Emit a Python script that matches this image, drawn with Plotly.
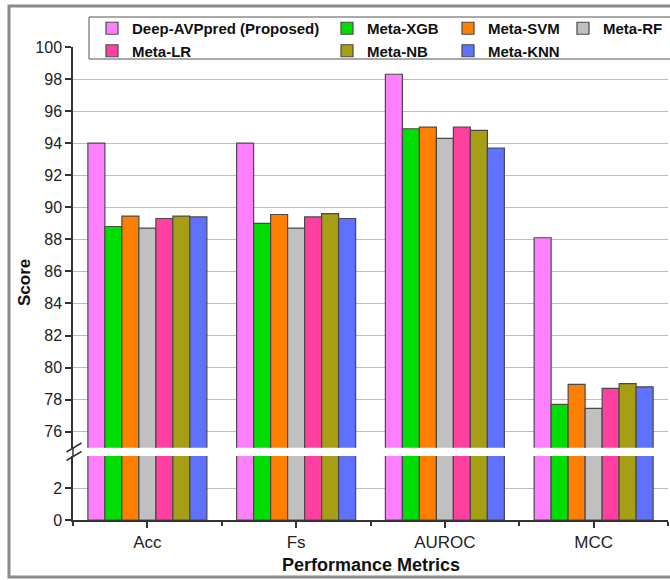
import plotly.graph_objects as go

# ---------------- data ----------------
metrics = ["Acc", "Fs", "AUROC", "MCC"]
models = ["Deep-AVPpred (Proposed)", "Meta-XGB", "Meta-SVM", "Meta-RF",
          "Meta-LR", "Meta-NB", "Meta-KNN"]
deep_avppred = [94.0, 94.0, 98.3, 88.1]
meta_xgb = [88.8, 89.0, 94.9, 77.7]
meta_svm = [89.45, 89.55, 95.0, 78.95]
meta_rf = [88.7, 88.7, 94.3, 77.45]
meta_lr = [89.3, 89.4, 95.0, 78.7]
meta_nb = [89.45, 89.6, 94.8, 79.0]
meta_knn = [89.4, 89.3, 93.7, 78.8]
series = [deep_avppred, meta_xgb, meta_svm, meta_rf, meta_lr, meta_nb, meta_knn]
colors = ["#FF80FF", "#00DD00", "#FF8000", "#C0C0C0", "#FF40A0", "#A69E14", "#6070FF"]
upper_ticks = [76, 78, 80, 82, 84, 86, 88, 90, 92, 94, 96, 98, 100]
lower_ticks = [0, 2]

# ---------------- geometry helpers (pixels -> paper) ----------------
W, H = 670, 580
L, R, T, B = 73, 2, 47, 60
PW, PH = W - L - R, H - T - B


def px(x):
    return (x - L) / PW


def py(y):
    return (H - B - y) / PH


low_dom = [0, py(456)]
up_dom = [py(447.7), 1]

legend_cols = [[0, 4], [1, 5], [2, 6], [3]]
legend_names = ["legend", "legend2", "legend3", "legend4"]
text_x = [132, 367, 488, 603]

fig = go.Figure()
x_idx = list(range(len(metrics)))
for i, (name, vals, col) in enumerate(zip(models, series, colors)):
    lg = next(legend_names[k] for k, c in enumerate(legend_cols) if i in c)
    fig.add_trace(go.Bar(x=x_idx, y=vals, name=name, marker_color=col,
                         marker_line=dict(color="#4a4a4a", width=1.2),
                         xaxis="x2", yaxis="y", legend=lg, legendgroup=name,
                         hoverinfo="skip"))
    fig.add_trace(go.Bar(x=x_idx, y=vals, name=name, marker_color=col,
                         marker_line=dict(color="#4a4a4a", width=1.2),
                         xaxis="x", yaxis="y2", showlegend=False,
                         legendgroup=name, hoverinfo="skip"))

font_family = "Liberation Sans, Arial, sans-serif"
axis_line = "#333333"
grid = "#BDBDBD"

layout_legends = {}
for k, lname in enumerate(legend_names):
    layout_legends[lname] = dict(
        x=px(text_x[k] - 40), xanchor="left", y=py(12), yanchor="top",
        orientation="v", bgcolor="rgba(0,0,0,0)", borderwidth=0,
        font=dict(family=font_family, size=15, color="#111111", weight="bold"),
        tracegroupgap=0, itemwidth=30, traceorder="normal")

fig.update_layout(
    width=W, height=H,
    margin=dict(l=L, r=R, t=T, b=B, autoexpand=False),
    paper_bgcolor="white", plot_bgcolor="white",
    barmode="group", bargap=0.2, bargroupgap=0,
    font=dict(family=font_family, color="#222222"),
    xaxis=dict(domain=[0, 1], anchor="y2", range=[-0.5, 3.5],
               tickmode="array", tickvals=x_idx, ticktext=metrics,
               ticks="outside", ticklen=6, tickwidth=1.5, tickcolor=axis_line,
               showline=True, linecolor=axis_line, linewidth=1.5,
               showgrid=False, zeroline=False,
               tickfont=dict(size=17, color="#222222"),
               minor=dict(ticks="outside", ticklen=4, tickwidth=1.5,
                          tickcolor=axis_line, tick0=0.5, dtick=1, showgrid=False)),
    xaxis2=dict(domain=[0, 1], anchor="y", matches="x", range=[-0.5, 3.5],
                visible=False),
    yaxis=dict(domain=up_dom, anchor="x2", range=[75, 100],
               tickmode="array", tickvals=upper_ticks,
               ticks="outside", ticklen=6, tickwidth=1.5, tickcolor=axis_line,
               showline=True, linecolor=axis_line, linewidth=1.5,
               showgrid=False, zeroline=False,
               tickfont=dict(size=16, color="#222222"),
               minor=dict(tickmode="array", tickvals=upper_ticks[:-1], ticks="",
                          showgrid=True, gridcolor=grid, gridwidth=1)),
    yaxis2=dict(domain=low_dom, anchor="x", range=[0, 4],
                tickmode="array", tickvals=lower_ticks,
                ticks="outside", ticklen=6, tickwidth=1.5, tickcolor=axis_line,
                showline=True, linecolor=axis_line, linewidth=1.5,
                showgrid=False, zeroline=False,
                tickfont=dict(size=16, color="#222222"),
                minor=dict(tickmode="array", tickvals=[2], ticks="",
                           showgrid=True, gridcolor=grid, gridwidth=1)),
    **layout_legends,
)

shapes = [
    # outer figure frame
    dict(type="rect", xref="paper", yref="paper", x0=px(9), x1=px(720),
         y0=py(577), y1=py(6), line=dict(color="#8a8a8a", width=3),
         fillcolor="rgba(0,0,0,0)", layer="below"),
    # legend box
    dict(type="rect", xref="paper", yref="paper", x0=px(89), x1=px(720),
         y0=py(59), y1=py(17), line=dict(color="#555555", width=1),
         fillcolor="white", layer="above"),
    # axis line through the break gap
    dict(type="line", xref="paper", yref="paper", x0=0, x1=0,
         y0=low_dom[1], y1=up_dom[0], line=dict(color=axis_line, width=1.5)),
    # break marks
    dict(type="line", xref="paper", yref="paper", x0=px(66.5), x1=px(81.5),
         y0=py(452), y1=py(443), line=dict(color=axis_line, width=1.5)),
    dict(type="line", xref="paper", yref="paper", x0=px(66.5), x1=px(81.5),
         y0=py(460.5), y1=py(451.5), line=dict(color=axis_line, width=1.5)),
]
fig.update_layout(shapes=shapes)

fig.add_annotation(text="<b>Performance Metrics</b>", xref="paper", yref="paper",
                   x=0.5, y=py(565), xanchor="center", yanchor="middle",
                   showarrow=False, font=dict(size=18, color="#111111"))
fig.add_annotation(text="<b>Score</b>", xref="paper", yref="paper",
                   x=px(24), y=py(283), xanchor="center", yanchor="middle",
                   textangle=-90, showarrow=False,
                   font=dict(size=17, color="#111111"))

fig.write_html("out.html",
               config={"displayModeBar": False},
               post_script="document.body.style.margin='0px';"
                           "document.body.style.overflow='hidden';")
